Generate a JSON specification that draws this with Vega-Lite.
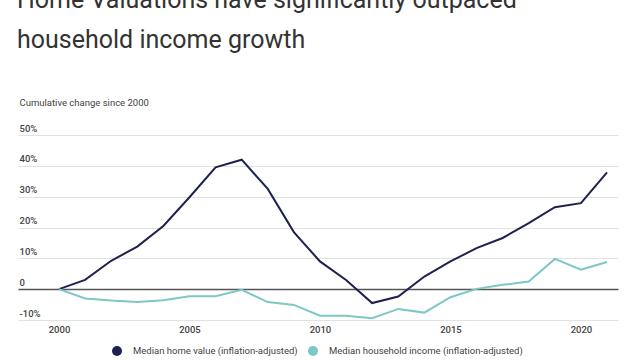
{
  "$schema": "https://vega.github.io/schema/vega-lite/v6.json",
  "width": 600,
  "height": 185,
  "autosize": {"type": "none"},
  "padding": {"left": 18, "top": 135, "right": 22, "bottom": 40},
  "background": "#ffffff",
  "config": {"font": "Roboto", "view": {"stroke": null}},
  "title": {
    "text": ["Home Valuations have significantly outpaced", "household income growth"],
    "anchor": "start",
    "fontSize": 25,
    "fontWeight": "normal",
    "color": "#333333",
    "lineHeight": 40,
    "dx": -1,
    "dy": -40
  },
  "data": {
    "values": [
      {"year": 2000, "series": "Median home value (inflation-adjusted)", "value": 0},
      {"year": 2001, "series": "Median home value (inflation-adjusted)", "value": 3.0},
      {"year": 2002, "series": "Median home value (inflation-adjusted)", "value": 9.2},
      {"year": 2003, "series": "Median home value (inflation-adjusted)", "value": 13.8},
      {"year": 2004, "series": "Median home value (inflation-adjusted)", "value": 20.5},
      {"year": 2005, "series": "Median home value (inflation-adjusted)", "value": 29.8},
      {"year": 2006, "series": "Median home value (inflation-adjusted)", "value": 39.5},
      {"year": 2007, "series": "Median home value (inflation-adjusted)", "value": 42.0},
      {"year": 2008, "series": "Median home value (inflation-adjusted)", "value": 32.5},
      {"year": 2009, "series": "Median home value (inflation-adjusted)", "value": 18.5},
      {"year": 2010, "series": "Median home value (inflation-adjusted)", "value": 9.0},
      {"year": 2011, "series": "Median home value (inflation-adjusted)", "value": 3.0},
      {"year": 2012, "series": "Median home value (inflation-adjusted)", "value": -4.5},
      {"year": 2013, "series": "Median home value (inflation-adjusted)", "value": -2.4},
      {"year": 2014, "series": "Median home value (inflation-adjusted)", "value": 4.1},
      {"year": 2015, "series": "Median home value (inflation-adjusted)", "value": 9.0},
      {"year": 2016, "series": "Median home value (inflation-adjusted)", "value": 13.3},
      {"year": 2017, "series": "Median home value (inflation-adjusted)", "value": 16.6},
      {"year": 2018, "series": "Median home value (inflation-adjusted)", "value": 21.4},
      {"year": 2019, "series": "Median home value (inflation-adjusted)", "value": 26.6},
      {"year": 2020, "series": "Median home value (inflation-adjusted)", "value": 27.9},
      {"year": 2021, "series": "Median home value (inflation-adjusted)", "value": 37.9},
      {"year": 2000, "series": "Median household income (inflation-adjusted)", "value": 0},
      {"year": 2001, "series": "Median household income (inflation-adjusted)", "value": -3.0},
      {"year": 2002, "series": "Median household income (inflation-adjusted)", "value": -3.7},
      {"year": 2003, "series": "Median household income (inflation-adjusted)", "value": -4.2},
      {"year": 2004, "series": "Median household income (inflation-adjusted)", "value": -3.6},
      {"year": 2005, "series": "Median household income (inflation-adjusted)", "value": -2.3},
      {"year": 2006, "series": "Median household income (inflation-adjusted)", "value": -2.3},
      {"year": 2007, "series": "Median household income (inflation-adjusted)", "value": -0.2},
      {"year": 2008, "series": "Median household income (inflation-adjusted)", "value": -4.2},
      {"year": 2009, "series": "Median household income (inflation-adjusted)", "value": -5.1},
      {"year": 2010, "series": "Median household income (inflation-adjusted)", "value": -8.6},
      {"year": 2011, "series": "Median household income (inflation-adjusted)", "value": -8.6},
      {"year": 2012, "series": "Median household income (inflation-adjusted)", "value": -9.4},
      {"year": 2013, "series": "Median household income (inflation-adjusted)", "value": -6.4},
      {"year": 2014, "series": "Median household income (inflation-adjusted)", "value": -7.6},
      {"year": 2015, "series": "Median household income (inflation-adjusted)", "value": -2.6},
      {"year": 2016, "series": "Median household income (inflation-adjusted)", "value": 0.1},
      {"year": 2017, "series": "Median household income (inflation-adjusted)", "value": 1.4},
      {"year": 2018, "series": "Median household income (inflation-adjusted)", "value": 2.5},
      {"year": 2019, "series": "Median household income (inflation-adjusted)", "value": 9.8},
      {"year": 2020, "series": "Median household income (inflation-adjusted)", "value": 6.3},
      {"year": 2021, "series": "Median household income (inflation-adjusted)", "value": 8.8}
    ]
  },
  "mark": {"type": "line", "strokeWidth": 2},
  "encoding": {
    "x": {
      "field": "year",
      "type": "quantitative",
      "scale": {"domain": [1998.43, 2021.42], "nice": false, "zero": false},
      "axis": {
        "values": [2000, 2005, 2010, 2015, 2020],
        "format": "d",
        "grid": false,
        "domain": false,
        "ticks": false,
        "labelPadding": 4,
        "labelFontSize": 9.5,
        "labelColor": "#444444",
        "labelFontWeight": 500,
        "title": null
      }
    },
    "y": {
      "field": "value",
      "type": "quantitative",
      "scale": {"domain": [-10, 50], "nice": false},
      "axis": {
        "values": [-10, 0, 10, 20, 30, 40, 50],
        "labelExpr": "datum.value == 0 ? '0' : datum.value + '%'",
        "labelAlign": "left",
        "labelBaseline": "bottom",
        "labelPadding": -1,
        "labelOffset": -2,
        "tickSize": 0,
        "ticks": false,
        "domain": false,
        "labelFontSize": 9.5,
        "labelColor": "#444444",
        "labelFontWeight": 500,
        "grid": true,
        "gridColor": {"condition": {"test": "datum.value === 0", "value": "#555555"}, "value": "#e2e2e2"},
        "gridWidth": {"condition": {"test": "datum.value === 0", "value": 1.5}, "value": 1},
        "title": "Cumulative change since 2000",
        "titleAngle": 0,
        "titleAlign": "left",
        "titleBaseline": "alphabetic",
        "titleX": 1,
        "titleY": -30,
        "titleFontSize": 9.5,
        "titleFontWeight": "normal",
        "titleColor": "#444444"
      }
    },
    "color": {
      "field": "series",
      "type": "nominal",
      "scale": {
        "domain": ["Median home value (inflation-adjusted)", "Median household income (inflation-adjusted)"],
        "range": ["#1e2150", "#7cc7c7"]
      },
      "legend": {
        "orient": "none",
        "direction": "horizontal",
        "legendX": 94,
        "legendY": 211,
        "title": null,
        "padding": 0,
        "symbolType": "circle",
        "symbolSize": 100,
        "symbolStrokeWidth": 0,
        "labelFontSize": 9.5,
        "labelColor": "#444444",
        "labelOffset": 11,
        "labelLimit": 400,
        "columnPadding": 10,
        "encode": {
          "symbols": {"update": {"fill": {"scale": "color", "field": "value"}, "strokeWidth": {"value": 0}}}
        }
      }
    }
  }
}
